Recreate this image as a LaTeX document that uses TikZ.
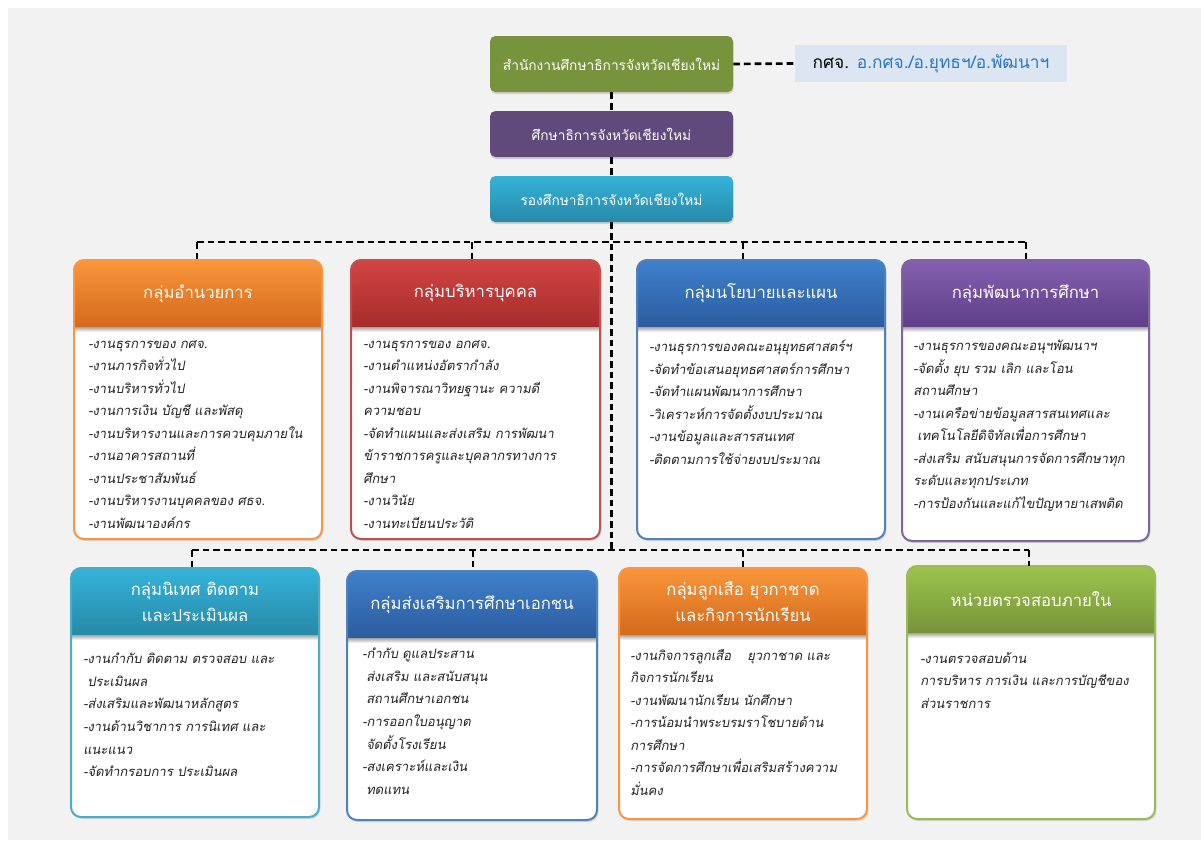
\documentclass[tikz,border=0pt]{standalone}
\usepackage{fontspec}
\setmainfont[Script=Thai]{Loma}
\newfontfamily\thaiit[Script=Thai,FakeSlant=0.18]{Loma}
\usetikzlibrary{fit,shadows,calc}
\definecolor{bggray}{HTML}{F2F2F2}
\definecolor{lblbg}{HTML}{DCE6F2}
\definecolor{lblblue}{HTML}{2A78C2}
\definecolor{officegreen}{HTML}{77933C}
\definecolor{pepurple}{HTML}{604A7B}
\definecolor{cyanTop}{HTML}{35B3D9}
\definecolor{cyanBot}{HTML}{2689A8}
\definecolor{cyanBd}{HTML}{4BACC6}
\definecolor{orgTop}{HTML}{F9963A}
\definecolor{orgBot}{HTML}{D36A1C}
\definecolor{orgBd}{HTML}{F79646}
\definecolor{redTop}{HTML}{D24444}
\definecolor{redBot}{HTML}{A72B2B}
\definecolor{redBd}{HTML}{C0504D}
\definecolor{bluTop}{HTML}{3F80CC}
\definecolor{bluBot}{HTML}{2B5C9E}
\definecolor{bluBd}{HTML}{4F81BD}
\definecolor{purTop}{HTML}{8360AE}
\definecolor{purBot}{HTML}{5E3F88}
\definecolor{purBd}{HTML}{8064A2}
\definecolor{grnTop}{HTML}{9DC44D}
\definecolor{grnBot}{HTML}{76933A}
\definecolor{grnBd}{HTML}{9BBB59}
\definecolor{bodyink}{HTML}{222222}
\tikzset{
  dashline/.style={line width=2pt, dash pattern=on 5pt off 3pt, black},
  titletext/.style={text=white, font=\fontsize{12.5}{19.5}\selectfont, align=center, inner sep=0pt},
  bodytext/.style={anchor=north west, inner sep=0pt, align=left, text=bodyink,
    font=\thaiit\fontsize{9.8}{16.9}\selectfont, execute at begin node={\rule{0pt}{12pt}}},
  topbox/.style={minimum width=182.25pt, text=white, rounded corners=4pt, inner sep=0pt,
    font=\fontsize{10.3}{14}\selectfont,
    drop shadow={opacity=0.3, shadow xshift=0.5pt, shadow yshift=-1.5pt}},
}
\newcommand{\groupbox}[6]{%
  \coordinate (#1-nw) at (#2);
  \coordinate (#1-se) at (#3);
  \node[fit=(#1-nw)(#1-se), inner sep=0pt, outer sep=0pt] (#1) {};
  \fill[white, rounded corners=7.5pt, drop shadow={opacity=0.25, shadow xshift=1pt, shadow yshift=-1.5pt}] (#1.north west) rectangle (#1.south east);
  \begin{scope}
    \clip[rounded corners=7.5pt] (#1.north west) rectangle (#1.south east);
    \shade[top color=#4, bottom color=#5] (#1.north west) rectangle ([yshift=-50.25pt]#1.north east);
    \shade[top color=black!35, bottom color=white] ([yshift=-50.25pt]#1.north west) rectangle ([yshift=-54pt]#1.north east);
  \end{scope}
  \draw[#6, line width=1.5pt, rounded corners=7.5pt] (#1.north west) rectangle (#1.south east);
}
\begin{document}
\begin{tikzpicture}[x=0.75pt, y=-0.75pt]
\useasboundingbox (0,0) rectangle (1201,840);
\fill[bggray] (8,8) rectangle (1201,840);

% top nodes
\node[topbox, fill=officegreen, minimum height=42pt] (office) at (611.5,64) {สำนักงานศึกษาธิการจังหวัดเชียงใหม่};
\node[topbox, fill=pepurple, minimum height=34.5pt] (pe) at (611.5,134) {ศึกษาธิการจังหวัดเชียงใหม่};
\node[topbox, top color=cyanTop, bottom color=cyanBot, minimum height=34.5pt] (dep) at (611.5,199) {รองศึกษาธิการจังหวัดเชียงใหม่};
\node[fill=lblbg, minimum width=204pt, minimum height=27.75pt, inner sep=0pt, font=\fontsize{13}{16}\selectfont] (lbl) at (931,63.5) {\textcolor{black}{กศจ.} \textcolor{lblblue}{อ.กศจ./อ.ยุทธฯ/อ.พัฒนาฯ}};

% coordinates for buses
\coordinate (j2) at (611.5,550);
\coordinate (b1a) at (197,242);
\coordinate (b1b) at (472,242);
\coordinate (b1c) at (743,242);
\coordinate (b1d) at (1026,242);
\coordinate (b2e) at (192,550);
\coordinate (b2f) at (473,550);
\coordinate (b2g) at (743,550);
\coordinate (b2h) at (1029,550);

% boxes
\groupbox{ga}{74,260}{322,539}{orgTop}{orgBot}{orgBd}
\groupbox{gb}{351,260}{600,539}{redTop}{redBot}{redBd}
\groupbox{gc}{637,260}{885,539}{bluTop}{bluBot}{bluBd}
\groupbox{gd}{902,260}{1149,541}{purTop}{purBot}{purBd}
\groupbox{ge}{71,568}{319,817}{cyanTop}{cyanBot}{cyanBd}
\groupbox{gf}{347,571}{597,820}{bluTop}{bluBot}{bluBd}
\groupbox{gg}{619,568}{867,819}{orgTop}{orgBot}{orgBd}
\groupbox{gh}{907,566}{1155,819}{grnTop}{grnBot}{grnBd}

% connectors
\draw[dashline] (office.east) -- (lbl.west);
\draw[dashline] (office.south) -- (pe.north);
\draw[dashline] (pe.south) -- (dep.north);
\draw[dashline] (dep.south) -- (j2);
\draw[dashline] (b1a) -- (b1d);
\draw[dashline] (b2e) -- (b2h);
\draw[dashline] (b1a) -- (b1a |- ga.north);
\draw[dashline] (b1b) -- (b1b |- gb.north);
\draw[dashline] (b1c) -- (b1c |- gc.north);
\draw[dashline] (b1d) -- (b1d |- gd.north);
\draw[dashline] (b2e) -- (b2e |- ge.north);
\draw[dashline] (b2f) -- (b2f |- gf.north);
\draw[dashline] (b2g) -- (b2g |- gg.north);
\draw[dashline] (b2h) -- (b2h |- gh.north);

% titles
\node[titletext] (ga-t) at ([yshift=-25.1pt]ga.north) {กลุ่มอำนวยการ};
\node[titletext] (gb-t) at ([yshift=-25.1pt]gb.north) {กลุ่มบริหารบุคคล};
\node[titletext] (gc-t) at ([yshift=-25.1pt]gc.north) {กลุ่มนโยบายและแผน};
\node[titletext] (gd-t) at ([yshift=-25.1pt]gd.north) {กลุ่มพัฒนาการศึกษา};
\node[titletext] (ge-t) at ([yshift=-25.1pt]ge.north) {กลุ่มนิเทศ ติดตาม\\และประเมินผล};
\node[titletext] (gf-t) at ([yshift=-25.1pt]gf.north) {กลุ่มส่งเสริมการศึกษาเอกชน};
\node[titletext] (gg-t) at ([yshift=-25.1pt]gg.north) {กลุ่มลูกเสือ ยุวกาชาด\\และกิจการนักเรียน};
\node[titletext] (gh-t) at ([yshift=-25.1pt]gh.north) {หน่วยตรวจสอบภายใน};

% bodies
\node[bodytext] (ga-b) at (88,340) {-งานธุรการของ กศจ.\\-งานภารกิจทั่วไป\\-งานบริหารทั่วไป\\-งานการเงิน บัญชี และพัสดุ\\-งานบริหารงานและการควบคุมภายใน\\-งานอาคารสถานที่\\-งานประชาสัมพันธ์\\-งานบริหารงานบุคคลของ ศธจ.\\-งานพัฒนาองค์กร};
\node[bodytext] (gb-b) at (363,340) {-งานธุรการของ อกศจ.\\-งานตำแหน่งอัตรากำลัง\\-งานพิจารณาวิทยฐานะ ความดี\\ความชอบ\\-จัดทำแผนและส่งเสริม การพัฒนา\\ข้าราชการครูและบุคลากรทางการ\\ศึกษา\\-งานวินัย\\-งานทะเบียนประวัติ};
\node[bodytext] (gc-b) at (649,340) {-งานธุรการของคณะอนุยุทธศาสตร์ฯ\\-จัดทำข้อเสนอยุทธศาสตร์การศึกษา\\-จัดทำแผนพัฒนาการศึกษา\\-วิเคราะห์การจัดตั้งงบประมาณ\\-งานข้อมูลและสารสนเทศ\\-ติดตามการใช้จ่ายงบประมาณ};
\node[bodytext] (gd-b) at (913,340) {-งานธุรการของคณะอนุฯพัฒนาฯ\\-จัดตั้ง ยุบ รวม เลิก และโอน\\สถานศึกษา\\-งานเครือข่ายข้อมูลสารสนเทศและ\\\hspace*{3pt}เทคโนโลยีดิจิทัลเพื่อการศึกษา\\-ส่งเสริม สนับสนุนการจัดการศึกษาทุก\\ระดับและทุกประเภท\\-การป้องกันและแก้ไขปัญหายาเสพติด};
\node[bodytext] (ge-b) at (83,653) {-งานกำกับ ติดตาม ตรวจสอบ และ\\\hspace*{3pt}ประเมินผล\\-ส่งเสริมและพัฒนาหลักสูตร\\-งานด้านวิชาการ การนิเทศ และ\\แนะแนว\\-จัดทำกรอบการ ประเมินผล};
\node[bodytext] (gf-b) at (362,648) {-กำกับ ดูแลประสาน\\\hspace*{3pt}ส่งเสริม และสนับสนุน\\\hspace*{3pt}สถานศึกษาเอกชน\\-การออกใบอนุญาต\\\hspace*{3pt}จัดตั้งโรงเรียน\\-สงเคราะห์และเงิน\\\hspace*{3pt}ทดแทน};
\node[bodytext] (gg-b) at (630,649) {-งานกิจการลูกเสือ\hspace*{12pt}ยุวกาชาด และ\\กิจการนักเรียน\\-งานพัฒนานักเรียน นักศึกษา\\-การน้อมนำพระบรมราโชบายด้าน\\การศึกษา\\-การจัดการศึกษาเพื่อเสริมสร้างความ\\มั่นคง};
\node[bodytext] (gh-b) at (920,652) {-งานตรวจสอบด้าน\\การบริหาร การเงิน และการบัญชีของ\\ส่วนราชการ};
\end{tikzpicture}
\end{document}
